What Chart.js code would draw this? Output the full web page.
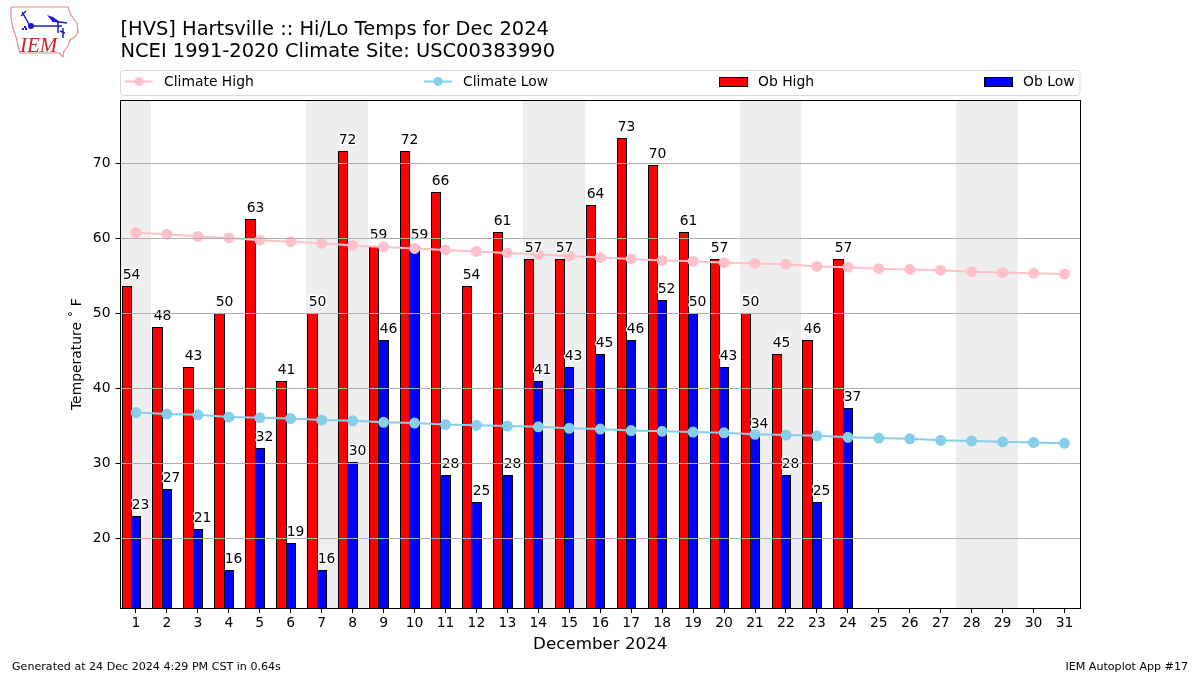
<!DOCTYPE html>
<html><head><meta charset="utf-8">
<style>html,body{margin:0;padding:0;background:#fff}#w{width:1200px;height:675px;position:relative}</style>
<script src="https://cdn.jsdelivr.net/npm/chart.js@4"></script>
</head><body><div id="w"><canvas id="c" width="1200" height="675"></canvas></div>
<script>
const days = ['1','2','3','4','5','6','7','8','9','10','11','12','13','14','15','16','17','18','19','20','21','22','23','24','25','26','27','28','29','30','31'];
const obHigh = [53.6,48.2,42.8,50,62.6,41,50,71.6,59,71.6,66.2,53.6,60.8,57.2,57.2,64.4,73.4,69.8,60.8,57.2,50,44.6,46.4,57.2];
const obLow = [23,26.6,21.2,15.8,32,19.4,15.8,30.2,46.4,59,28.4,24.8,28.4,41,42.8,44.6,46.4,51.8,50,42.8,33.8,28.4,24.8,37.4];
const highLabels = [54,48,43,50,63,41,50,72,59,72,66,54,61,57,57,64,73,70,61,57,50,45,46,57];
const lowLabels = [23,27,21,16,32,19,16,30,46,59,28,25,28,41,43,45,46,52,50,43,34,28,25,37];
const climateHigh = [60.8,60.6,60.3,60.1,59.8,59.6,59.4,59.1,58.9,58.7,58.5,58.3,58.1,57.9,57.7,57.5,57.3,57.1,57.0,56.8,56.7,56.6,56.3,56.2,56.0,55.9,55.8,55.6,55.5,55.4,55.3];
const climateLow = [36.8,36.6,36.5,36.2,36.1,36.0,35.8,35.7,35.5,35.4,35.2,35.1,35.0,34.9,34.7,34.6,34.4,34.3,34.2,34.1,33.9,33.8,33.7,33.5,33.4,33.3,33.1,33.0,32.9,32.8,32.7];
const weekendDays = ['1','7','8','14','15','21','22','28','29'];
const yTicks = [20,30,40,50,60,70];
const titleLines = ['[HVS] Hartsville :: Hi/Lo Temps for Dec 2024','NCEI 1991-2020 Climate Site: USC00383990'];
const FONT = '"DejaVu Sans"';
const BAR_WIDTH = 0.3;

/* Red bars sit one bar-width left of the day tick; both series are snapped to whole pixels for crisp outlines. */
const barShift = { id:'barShift', afterDatasetsUpdate(ch){
  const x=ch.scales.x, step=x.getPixelForValue(1)-x.getPixelForValue(0);
  [0,1].forEach(i=>ch.getDatasetMeta(i).data.forEach(b=>{
    const cx=b.x-(i===0?step*BAR_WIDTH:0), w=step*BAR_WIDTH;
    const l=Math.round(cx-w/2-.5), r=Math.round(cx+w/2+.5);
    b.x=(l+r)/2; b.width=r-l;
    b.y=Math.round(b.y-.5);
  }));
}};

const shading = { id:'shading', beforeDatasetsDraw(ch){
  const {ctx,chartArea:a,scales:{x}} = ch;
  const step = x.getPixelForValue(1)-x.getPixelForValue(0);
  ctx.save(); ctx.fillStyle='#eeeeee';
  ctx.beginPath(); ctx.rect(a.left,a.top,a.width,a.height); ctx.clip();
  weekendDays.forEach(d=>{
    const c=x.getPixelForValue(days.indexOf(d));
    const l=Math.round(c-step/2), r=Math.round(c+step/2);
    ctx.fillRect(l,a.top,r-l,a.height);
  });
  ctx.restore();
}};

const valueLabels = { id:'valueLabels', afterDatasetsDraw(ch){
  const ctx=ch.ctx; ctx.save();
  ctx.font='13.9px '+FONT; ctx.textAlign='center'; ctx.textBaseline='alphabetic';
  ctx.lineJoin='round';
  [[0,highLabels],[1,lowLabels]].forEach(([i,labs])=>{
    ch.getDatasetMeta(i).data.forEach((b,k)=>{
      if(labs[k]==null) return;
      const px=b.x+b.width/2-.5, py=b.y-7;
      ctx.lineWidth=3; ctx.strokeStyle='#fff'; ctx.strokeText(labs[k],px,py);
      ctx.fillStyle='#000'; ctx.fillText(labs[k],px,py);
    });
  });
  ctx.restore();
}};

const frame = { id:'frame', afterDraw(ch){
  const {ctx,chartArea:a}=ch; ctx.save();
  ctx.strokeStyle='#000'; ctx.lineWidth=1;
  ctx.strokeRect(Math.floor(a.left)+.5,Math.round(a.top)+.5,Math.round(a.right)-Math.floor(a.left),Math.round(a.height));
  ctx.restore();
}};

const boxLegend = { id:'boxLegend', afterDraw(ch){
  const ctx=ch.ctx; ctx.save();
  ctx.strokeStyle='#d9d9d9'; ctx.lineWidth=1; ctx.fillStyle='#fff';
  ctx.beginPath(); ctx.roundRect(120.5,70.5,959.5,25,3); ctx.fill(); ctx.stroke();
  ctx.font='13.9px '+FONT; ctx.textBaseline='alphabetic'; ctx.textAlign='left';
  const items=[[2,125],[3,424],[0,719],[1,984]];
  const yc=81.5;
  items.forEach(([i,x0])=>{
    const d=ch.data.datasets[i];
    if(d.type==='line'){
      ctx.strokeStyle=d.borderColor; ctx.lineWidth=2;
      ctx.beginPath(); ctx.moveTo(x0,yc); ctx.lineTo(x0+28,yc); ctx.stroke();
      ctx.fillStyle=d.backgroundColor; ctx.beginPath(); ctx.arc(x0+14,yc,4.5,0,Math.PI*2); ctx.fill();
    } else {
      ctx.fillStyle=d.backgroundColor; ctx.fillRect(x0,77,28,10);
      ctx.strokeStyle='#000'; ctx.lineWidth=1; ctx.strokeRect(x0+.5,77.5,28,9);
    }
    ctx.fillStyle='#000'; ctx.fillText(d.label,x0+39,86);
  });
  ctx.restore();
}};

const footer = { id:'footer', afterDraw(ch){
  const ctx=ch.ctx; ctx.save(); ctx.fillStyle='#000'; ctx.font='11.1px '+FONT; ctx.textBaseline='alphabetic';
  ctx.textAlign='left'; ctx.fillText('Generated at 24 Dec 2024 4:29 PM CST in 0.64s',12,670);
  ctx.textAlign='right'; ctx.fillText('IEM Autoplot App #17',1188,670);
  ctx.restore();
}};

const logo = { id:'logo', afterDraw(ch){
  const c=ch.ctx; c.save();
  c.strokeStyle='#e58a90'; c.lineWidth=1.2; c.lineJoin='round';
  c.beginPath();
  [[11,7],[68,7],[70,13],[73,18],[77,23],[78,32],[76,36],[70,40],[68,46],[64,51],[63,57],[59,53],[20,53],[18,46],[17,40],[13,28],[11,18],[11,7]].forEach((p,i)=>i?c.lineTo(p[0],p[1]):c.moveTo(p[0],p[1]));
  c.stroke();
  c.strokeStyle='#1a1ad0'; c.fillStyle='#1a1ad0'; c.lineWidth=1.5;
  c.beginPath();
  c.moveTo(30,26); c.lineTo(62,26);
  c.moveTo(30,26); c.lineTo(22,12);
  c.moveTo(21,16); c.lineTo(26,11);
  c.moveTo(58,21); c.lineTo(58,33);
  c.moveTo(63,28); c.lineTo(63,38);
  c.moveTo(60,31); c.lineTo(65,33);
  c.moveTo(52,21); c.lineTo(67,23);
  c.stroke();
  c.beginPath(); c.arc(31,26,3,0,Math.PI*2); c.fill();
  c.beginPath(); c.moveTo(47,15); c.lineTo(53,17); c.lineTo(60,22); c.lineTo(52,21); c.closePath(); c.fill();
  c.fillRect(24,26,2,2); c.fillRect(22,28,2,2); c.fillRect(25,28,2,2);
  c.fillStyle='#d62028'; c.font='italic 21px "Liberation Serif"'; c.textAlign='left';
  c.fillText('IEM',20,52);
  c.restore();
}};

new Chart(document.getElementById('c'),{
  data:{labels:days,datasets:[
    {type:'bar',label:'Ob High',data:obHigh,backgroundColor:'#ff0000',borderColor:'#000',borderWidth:1,order:3,grouped:false,categoryPercentage:BAR_WIDTH,barPercentage:1},
    {type:'bar',label:'Ob Low',data:obLow,backgroundColor:'#0000ff',borderColor:'#000',borderWidth:1,order:3,grouped:false,categoryPercentage:BAR_WIDTH,barPercentage:1},
    {type:'line',label:'Climate High',data:climateHigh,borderColor:'#ffc0cb',backgroundColor:'#ffc0cb',borderWidth:2,pointRadius:4.5,pointBackgroundColor:'#ffc0cb',pointBorderColor:'#ffc0cb',order:1,tension:0},
    {type:'line',label:'Climate Low',data:climateLow,borderColor:'#87ceeb',backgroundColor:'#87ceeb',borderWidth:2,pointRadius:4.5,pointBackgroundColor:'#87ceeb',pointBorderColor:'#87ceeb',order:1,tension:0}
  ]},
  options:{
    responsive:false,animation:false,devicePixelRatio:1,
    layout:{padding:{left:0,right:120,top:0,bottom:0}},
    plugins:{
      legend:{display:false},tooltip:{enabled:false},
      title:{display:true,text:titleLines,align:'start',fullSize:false,color:'#000',
        font:{family:FONT,size:19.45,weight:'normal',lineHeight:1.1},padding:{top:19.5,bottom:38}}
    },
    scales:{
      x:{type:'category',offset:true,
        grid:{display:true,drawOnChartArea:false,offset:false,tickLength:5,tickColor:'#000',color:'#000'},
        border:{display:false},
        ticks:{color:'#000',font:{family:FONT,size:13.9},autoSkip:false,maxRotation:0,padding:2},
        title:{display:true,text:'December 2024',color:'#000',font:{family:FONT,size:16.7},padding:{top:3,bottom:20}},
        afterFit(s){s.height=67;}
      },
      y:{type:'linear',min:10.73,max:78.47,
        afterBuildTicks(s){s.ticks=yTicks.map(v=>({value:v}));},
        grid:{color:'#b0b0b0',lineWidth:1,tickLength:5,tickColor:'#000',z:1},
        border:{display:false,z:1},
        ticks:{color:'#000',font:{family:FONT,size:13.9},padding:5},
        title:{display:true,text:'Temperature ˚ F',color:'#000',font:{family:FONT,size:13.9},padding:{top:69,bottom:4}},
        afterFit(s){s.width=120.5;}
      }
    }
  },
  plugins:[barShift,shading,valueLabels,frame,boxLegend,footer,logo]
});
</script></body></html>
